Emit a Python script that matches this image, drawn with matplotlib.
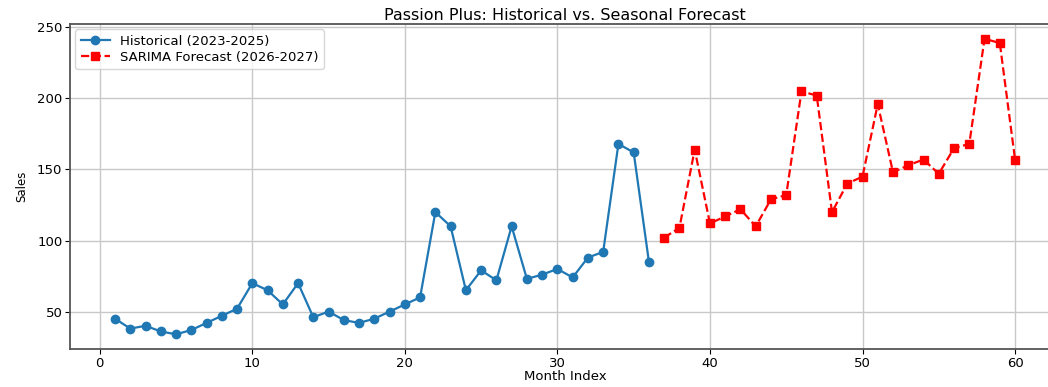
import numpy as np
from matplotlib import pyplot as plt

hist_months = np.arange(1, 37)
hist_sales = [45, 38, 40, 36, 34, 37, 42, 47, 52, 70, 65, 55,
              70, 46, 50, 44, 42, 45, 50, 55, 60, 120, 110, 65,
              79, 72, 110, 73, 76, 80, 74, 88, 92, 168, 162, 85]

fc_months = np.arange(37, 61)
fc_sales = [102, 109, 164, 112, 117, 122, 110, 129, 132, 205, 202, 120,
            140, 145, 196, 148, 153, 157, 147, 165, 168, 242, 239, 157]

plt.rcParams["font.size"] = 9.5

fig = plt.figure(figsize=(10.48, 3.87), dpi=100)
ax = fig.add_axes([0.0668, 0.098, 0.9447, 0.840])

ax.plot(hist_months, hist_sales, "o-", color="#1f77b4", markersize=6,
        linewidth=1.6, label="Historical (2023-2025)")
ax.plot(fc_months, fc_sales, "s--", color="red", markersize=6,
        linewidth=1.6, label="SARIMA Forecast (2026-2027)")

ax.set_title("Passion Plus: Historical vs. Seasonal Forecast", fontsize=11.5, pad=3)
ax.set_xlabel("Month Index", fontsize=9.5, labelpad=0)
ax.set_ylabel("Sales", fontsize=8.5, labelpad=6)
ax.set_yticks([50, 100, 150, 200, 250])
ax.tick_params(labelsize=9.5, pad=2)
ax.grid(True, color="#c8c8c8", linewidth=1.0)
for s in ax.spines.values():
    s.set_linewidth(1.3)
    s.set_color("#555555")
ax.legend(loc="upper left", fontsize=9.5, labelspacing=0.25,
          borderaxespad=0.4, handlelength=2.2)

fig.savefig("out.png", dpi=100)
